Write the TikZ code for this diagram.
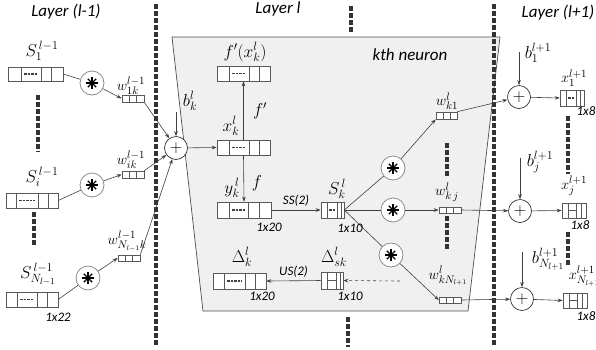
\documentclass[tikz,border=0pt]{standalone}
\usepackage{fontspec}
\newfontfamily\carl{Carlito}
\usetikzlibrary{arrows.meta,calc}
\newcommand\abox[6]{\node[cellb, minimum width={(#4-#2)*1pt}, minimum height={(#5-#3)*1pt}] (#1) at ({(#2+#4)/2},{(#3+#5)/2}) {};
\foreach \d in {#6}{\draw[cellline] (\d,#3) -- (\d,#5);}}
\newcommand\dashin[3]{\draw[dashline] (#1,#3) -- (#2,#3);}
\begin{document}
\begin{tikzpicture}[x=1pt,y=-1pt,
  ln/.style={draw=black!75, line width=0.6pt},
  arr/.style={ln, -{Stealth[length=5pt,width=3.6pt]}},
  cellb/.style={draw=black!65, line width=0.6pt, fill=white, inner sep=0pt, rectangle},
  cellline/.style={draw=black!65, line width=0.6pt},
  dashline/.style={draw=black!75, line width=1.1pt, dash pattern=on 2.5pt off 1pt},
  dotv/.style={draw=black!80, line width=3.6pt, dash pattern=on 4.5pt off 2.5pt},
  starc/.style={circle, draw=black!45, line width=0.8pt, fill=white, minimum size=24pt, inner sep=0pt,
    path picture={\foreach \a in {0,45,90,135}{\draw[black, line width=1.3pt] ($(path picture bounding box.center)+(\a:6pt)$) -- ($(path picture bounding box.center)+(\a+180:6pt)$);}
      \fill[black] (path picture bounding box.center) circle (2.3pt);}},
  plusc/.style={circle, draw=black!80, line width=0.7pt, fill=white, minimum size=23pt, inner sep=0pt, font=\fontsize{19}{19}\selectfont},
  ttl/.style={font=\carl\itshape\fontsize{17}{20}\selectfont, inner sep=0pt},
  dimt/.style={font=\carl\itshape\fontsize{13}{15}\selectfont, inner sep=0pt},
  lab/.style={font=\fontsize{18}{20}\selectfont, inner sep=0pt},
  wlab/.style={font=\fontsize{15}{17}\selectfont, inner sep=0pt},
]
\useasboundingbox (0,0) rectangle (596,349);
% panel
\draw[fill=black!6, draw=black!70, line width=0.7pt] (172,37) -- (500,37) -- (468,311) -- (203,311) -- cycle;
% dotted separators
\draw[dotv] (156,4) -- (156,347);
\draw[dotv] (494,4) -- (494,347);
\draw[dotv] (351,6) -- (351,34);
\draw[dotv] (348,317) -- (348,347);
\draw[dotv] (38,95) -- (38,152);
\draw[dotv] (34,212) -- (34,247);
\draw[dotv] (447,143) -- (447,178);
\draw[dotv] (447,216) -- (447,250);
\draw[dotv] (568,116) -- (568,174);
\draw[dotv] (568,232) -- (568,267);
% titles
\node[ttl] (t1) at (66,12) {Layer (l-1)};
\node[ttl] (t2) at (278,9) {Layer l};
\node[ttl] (t3) at (558,13) {Layer (l+1)};
\node[ttl] (t4) at (410,55) {kth neuron};
% arrays
\abox{s1}{8}{67}{63}{81}{21,41,51} \dashin{24}{38}{74}
\abox{si}{6}{193}{58}{208}{16,38,48} \dashin{19}{35}{200.5}
\abox{sN}{6}{292}{58}{307}{17,37,47} \dashin{20}{34}{299.5}
\abox{w1k}{122}{95}{144}{102}{129.3,136.7}
\abox{wik}{122}{171}{144}{178}{129.3,136.7}
\abox{wNk}{118}{255}{140}{261}{125.3,132.7}
\abox{fp}{217}{66}{270}{81}{229,249,259} \dashin{232}{246}{73.5}
\abox{xk}{217}{140}{270}{155}{229,249,259} \dashin{232}{246}{147.5}
\abox{yk}{217}{202}{271}{218}{229,248,259} \dashin{232}{245}{210}
\abox{sk}{321}{202}{344}{218}{327,337,341} \dashin{329}{335}{210}
\abox{Dk}{213}{273}{266}{289}{224,245,255} \dashin{227}{242}{281}
\abox{Dsk}{321}{272}{343}{289}{327,336,340} \draw[cellline] (327,280.5) -- (336,280.5);
\abox{wk1}{436}{112}{457}{119}{443,450}
\abox{wkj}{439}{207}{461}{213}{446.3,453.7}
\abox{wkN}{439}{297}{461}{303}{446.3,453.7}
\abox{x1}{560}{90}{584}{106}{566,576,580} \dashin{568}{574}{98}
\abox{xj}{562}{203}{586}{218}{568,576,581} \draw[cellline] (568,210.5) -- (576,210.5);
\abox{xN}{563}{293}{587}{308}{569,577,582} \draw[cellline] (569,300.5) -- (577,300.5);
% circles
\node[starc] (c1) at (92,83) {};
\node[starc] (c2) at (92,185) {};
\node[starc] (c3) at (88,278) {};
\node[starc] (cA) at (393,168) {};
\node[starc] (cB) at (393,210) {};
\node[starc] (cC) at (391,255) {};
\node[plusc] (pk) at (176,148) {$+$};
\node[plusc] (p1) at (519,97) {$+$};
\node[plusc] (pj) at (520,211) {$+$};
\node[plusc] (pN) at (522,299) {$+$};
% bias start points
\coordinate (bk) at (176,112);
\coordinate (b1) at (519,52);
\coordinate (bj) at (520,158);
\coordinate (bN) at (522,252);
\coordinate (dsrc) at (400,281);
% connectors layer l-1
\draw[ln] (s1.east) -- (c1);
\draw[ln] (si.east) -- (c2);
\draw[ln] (sN.east) -- (c3);
\draw[arr] (c1) -- (w1k.west);
\draw[arr] (c2) -- (wik.west);
\draw[arr] (c3) -- (wNk.west);
\draw[arr] (w1k.south east) -- (pk);
\draw[arr] (wik.north east) -- (pk);
\draw[arr] (wNk.north east) -- (pk);
\draw[arr] (bk) -- (pk);
% neuron
\draw[arr] (pk) -- (xk.west);
\draw[arr] (xk.north) -- (fp.south);
\draw[arr] (xk.south) -- (yk.north);
\draw[arr] (yk.east) -- node[dimt, above=3pt] (ss) {SS(2)} (sk.west);
\draw[ln] (sk.east) -- (cA);
\draw[ln] (sk.east) -- (cB);
\draw[ln] (sk.east) -- (cC);
\draw[arr] (cA) -- (wk1.south west);
\draw[arr] (cB) -- (wkj.west);
\draw[arr] (cC) -- (wkN.west);
\draw[arr] (Dsk.west) -- node[dimt, above=3pt] (us) {US(2)} (Dk.east);
\draw[arr, dashed] (dsrc) -- (Dsk.east);
% layer l+1
\draw[arr] (wk1.north east) -- (p1);
\draw[arr] (wkj.east) -- (pj);
\draw[arr] (wkN.east) -- (pN);
\draw[arr] (b1) -- (p1);
\draw[arr] (bj) -- (pj);
\draw[arr] (bN) -- (pN);
\draw[arr] (p1) -- (x1.west);
\draw[arr] (pj) -- (xj.west);
\draw[arr] (pN) -- (xN.west);
% math labels
\node[lab] (ls1) at (42,51) {$S^{\,l-1}_{1}$};
\node[lab] (lsi) at (42,177) {$S^{\,l-1}_{i}$};
\node[lab] (lsN) at (38,274) {$S^{\,l-1}_{N_{l-1}}$};
\node[wlab] (lw1) at (131,86) {$w^{l-1}_{1k}$};
\node[wlab] (lwi) at (131,160) {$w^{l-1}_{ik}$};
\node[wlab] (lwN) at (127,241) {$w^{l-1}_{N_{l-1}k}$};
\node[lab] (lbk) at (190,101) {$b^{l}_{k}$};
\node[lab] (lfp) at (245,52) {$f'(x^{l}_{k})$};
\node[lab] (lxk) at (231,126) {$x^{l}_{k}$};
\node[lab] (lf1) at (260,111) {$f'$};
\node[lab] (lf) at (257,183) {$f$};
\node[lab] (lyk) at (232,188) {$y^{\,l}_{k}$};
\node[lab] (lsk) at (337,189) {$S^{\,l}_{k}$};
\node[lab] (lDk) at (242,257) {$\Delta^{l}_{k}$};
\node[lab] (lDsk) at (334,257) {$\Delta^{l}_{sk}$};
\node[wlab] (lwk1) at (447,101) {$w^{l}_{k1}$};
\node[wlab] (lwkj) at (447,192) {$w^{l}_{k\,j}$};
\node[wlab] (lwkN) at (448,276) {$w^{l}_{kN_{l+1}}$};
\node[lab] (lb1) at (538,53) {$b^{l+1}_{1}$};
\node[lab] (lbj) at (540,162) {$b^{l+1}_{j}$};
\node[lab] (lbN) at (548,259) {$b^{l+1}_{N_{l+1}}$};
\node[wlab] (lx1) at (574,78) {$x^{l+1}_{1}$};
\node[wlab] (lxj) at (574,186) {$x^{l+1}_{j}$};
\node[wlab] (lxN) at (584,276) {$x^{l+1}_{N_{l+1}}$};
% dimensions
\node[dimt] (d1) at (58,317) {1x22};
\node[dimt] (d2) at (269,227) {1x20};
\node[dimt] (d3) at (350,228) {1x10};
\node[dimt] (d4) at (262,296) {1x20};
\node[dimt] (d5) at (350,296) {1x10};
\node[dimt] (d6) at (586,111) {1x8};
\node[dimt] (d7) at (580,225) {1x8};
\node[dimt] (d8) at (586,316) {1x8};
\end{tikzpicture}
\end{document}
